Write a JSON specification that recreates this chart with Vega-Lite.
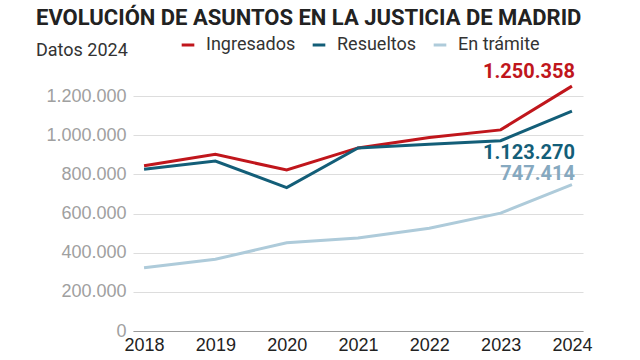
{
  "$schema": "https://vega.github.io/schema/vega-lite/v6.json",
  "autosize": "none",
  "width": 450,
  "height": 235,
  "padding": {"left": 133, "top": 96, "right": 57, "bottom": 29},
  "background": "white",
  "title": {
    "text": "EVOLUCIÓN DE ASUNTOS EN LA JUSTICIA DE MADRID",
    "subtitle": "Datos 2024",
    "anchor": "start",
    "frame": "group",
    "dx": -97,
    "offset": -25,
    "font": "Roboto",
    "fontSize": 22,
    "fontWeight": "bold",
    "color": "#222222",
    "subtitleFont": "Roboto",
    "subtitleFontSize": 18,
    "subtitleColor": "#333333",
    "subtitlePadding": 12
  },
  "data": {
    "values": [
      {"year": "2018", "serie": "Ingresados", "value": 844000},
      {"year": "2019", "serie": "Ingresados", "value": 902000},
      {"year": "2020", "serie": "Ingresados", "value": 822000},
      {"year": "2021", "serie": "Ingresados", "value": 935000},
      {"year": "2022", "serie": "Ingresados", "value": 988000},
      {"year": "2023", "serie": "Ingresados", "value": 1027000},
      {"year": "2024", "serie": "Ingresados", "value": 1250358, "label": "1.250.358"},
      {"year": "2018", "serie": "Resueltos", "value": 826000},
      {"year": "2019", "serie": "Resueltos", "value": 868000},
      {"year": "2020", "serie": "Resueltos", "value": 732000},
      {"year": "2021", "serie": "Resueltos", "value": 935000},
      {"year": "2022", "serie": "Resueltos", "value": 953000},
      {"year": "2023", "serie": "Resueltos", "value": 972000},
      {"year": "2024", "serie": "Resueltos", "value": 1123270, "label": "1.123.270"},
      {"year": "2018", "serie": "En trámite", "value": 323000},
      {"year": "2019", "serie": "En trámite", "value": 366000},
      {"year": "2020", "serie": "En trámite", "value": 451000},
      {"year": "2021", "serie": "En trámite", "value": 475000},
      {"year": "2022", "serie": "En trámite", "value": 525000},
      {"year": "2023", "serie": "En trámite", "value": 602000},
      {"year": "2024", "serie": "En trámite", "value": 747414, "label": "747.414"}
    ]
  },
  "encoding": {
    "x": {
      "field": "year",
      "type": "ordinal",
      "scale": {"type": "point", "padding": 0.155},
      "axis": {
        "title": null,
        "labelAngle": 0,
        "labelFont": "Liberation Sans",
        "labelFontSize": 18,
        "labelColor": "#222222",
        "labelPadding": 5,
        "ticks": false,
        "domain": true,
        "domainColor": "#999999",
        "domainWidth": 1,
        "grid": false
      }
    },
    "y": {
      "field": "value",
      "type": "quantitative",
      "scale": {"domain": [0, 1200000], "nice": false},
      "axis": {
        "title": null,
        "values": [0, 200000, 400000, 600000, 800000, 1000000, 1200000],
        "labelExpr": "replace(format(datum.value, ',d'), /,/g, '.')",
        "labelFont": "Liberation Sans",
        "labelFontSize": 18,
        "labelColor": "#a0a0a0",
        "labelPadding": 7,
        "ticks": false,
        "domain": false,
        "grid": true,
        "gridColor": "#dddddd",
        "gridWidth": 1
      }
    }
  },
  "layer": [
    {
      "mark": {"type": "line", "strokeWidth": 3},
      "encoding": {
        "color": {
          "field": "serie",
          "type": "nominal",
          "scale": {
            "domain": ["Ingresados", "Resueltos", "En trámite"],
            "range": ["#c0161c", "#135e78", "#aecbda"]
          },
          "legend": {
            "title": null,
            "orient": "none",
            "direction": "horizontal",
            "legendX": 46,
            "legendY": -60,
            "symbolType": "stroke",
            "symbolStrokeWidth": 3,
            "symbolSize": 160,
            "labelFont": "Roboto",
            "labelFontSize": 18,
            "labelColor": "#333333",
            "columnPadding": 10,
            "labelOffset": 9
          }
        }
      }
    },
    {
      "transform": [{"filter": "datum.serie == 'Ingresados' && datum.label"}],
      "mark": {"type": "text", "align": "right", "baseline": "middle", "dx": 3, "dy": -14, "font": "Roboto", "fontSize": 20, "fontWeight": "bold", "color": "#c0161c"},
      "encoding": {"text": {"field": "label"}}
    },
    {
      "transform": [{"filter": "datum.serie == 'Resueltos' && datum.label"}],
      "mark": {"type": "text", "align": "right", "baseline": "middle", "dx": 3, "dy": 42, "font": "Roboto", "fontSize": 20, "fontWeight": "bold", "color": "#135e78"},
      "encoding": {"text": {"field": "label"}}
    },
    {
      "transform": [{"filter": "datum.serie == 'En trámite' && datum.label"}],
      "mark": {"type": "text", "align": "right", "baseline": "middle", "dx": 3, "dy": -11, "font": "Roboto", "fontSize": 20, "fontWeight": "bold", "color": "#86a9c0"},
      "encoding": {"text": {"field": "label"}}
    }
  ],
  "config": {"view": {"stroke": null}}
}
